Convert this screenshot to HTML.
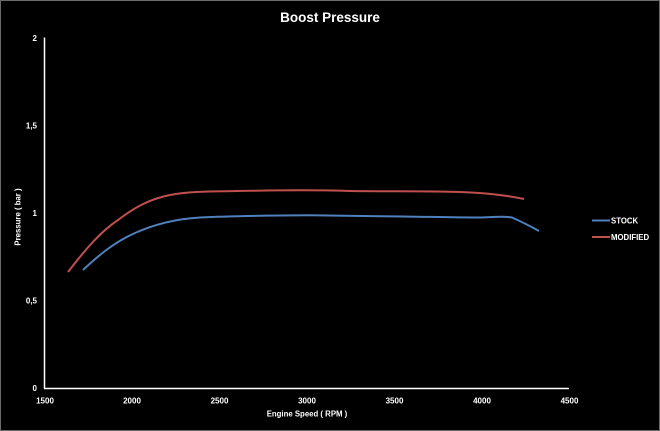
<!DOCTYPE html>
<html><head><meta charset="utf-8"><style>
html,body{margin:0;padding:0;background:#000;}
svg{display:block;}
text{font-family:"Liberation Sans",sans-serif;fill:#fff;}
</style></head><body>
<svg width="660" height="431" viewBox="0 0 660 431" xmlns="http://www.w3.org/2000/svg">
<rect x="0" y="0" width="660" height="431" fill="#000"/>
<rect x="0.5" y="0.5" width="659" height="430" fill="none" stroke="#6a6a6a" stroke-width="1"/>
<text x="330" y="22" font-size="13.5" font-weight="bold" text-anchor="middle">Boost Pressure</text>
<!-- axes -->
<line x1="44.5" y1="37.5" x2="44.5" y2="388.5" stroke="#fff" stroke-width="1.5"/>
<line x1="44" y1="388.5" x2="569" y2="388.5" stroke="#fff" stroke-width="1.5"/>
<!-- y ticks -->
<g font-size="8" font-weight="bold" text-anchor="end">
<text x="37" y="41">2</text>
<text x="37" y="128.5">1,5</text>
<text x="37" y="216">1</text>
<text x="37" y="303.5">0,5</text>
<text x="37" y="391">0</text>
</g>
<g font-size="8" font-weight="bold" text-anchor="middle">
<text x="45" y="403.5">1500</text>
<text x="132" y="403.5">2000</text>
<text x="219.5" y="403.5">2500</text>
<text x="307" y="403.5">3000</text>
<text x="394.5" y="403.5">3500</text>
<text x="482" y="403.5">4000</text>
<text x="569.5" y="403.5">4500</text>
</g>
<text x="307" y="416.5" font-size="7.8" font-weight="bold" text-anchor="middle">Engine Speed ( RPM )</text>
<text transform="translate(20.5,217) rotate(-90)" font-size="7.8" font-weight="bold" text-anchor="middle">Pressure ( bar )</text>
<!-- series -->
<path d="M68,272 C85,250 100,232 118,220 C135,207 150,199 170,195 C190,191 210,191.5 250,190.8 C290,190 320,190 350,191 C390,191.5 430,191 460,192 C490,193 510,196 524,199" fill="none" stroke="#c0504d" stroke-width="2"/>
<path d="M83,270 C100,254 115,242 135,233 C155,224 175,219 200,217.5 C230,216 270,215.5 310,215.3 C340,215.5 360,216 380,216.2 C420,216.5 450,217.5 480,217.5 C495,217 505,216 512,217.5 C520,221 530,226 539,231" fill="none" stroke="#4f81bd" stroke-width="2"/>
<!-- legend -->
<line x1="592" y1="220.5" x2="610" y2="220.5" stroke="#4f81bd" stroke-width="2"/>
<text x="611" y="223.5" font-size="7.8" font-weight="bold">STOCK</text>
<line x1="592" y1="237" x2="610" y2="237" stroke="#c0504d" stroke-width="2"/>
<text x="611" y="240" font-size="7.8" font-weight="bold">MODIFIED</text>
</svg>
</body></html>
